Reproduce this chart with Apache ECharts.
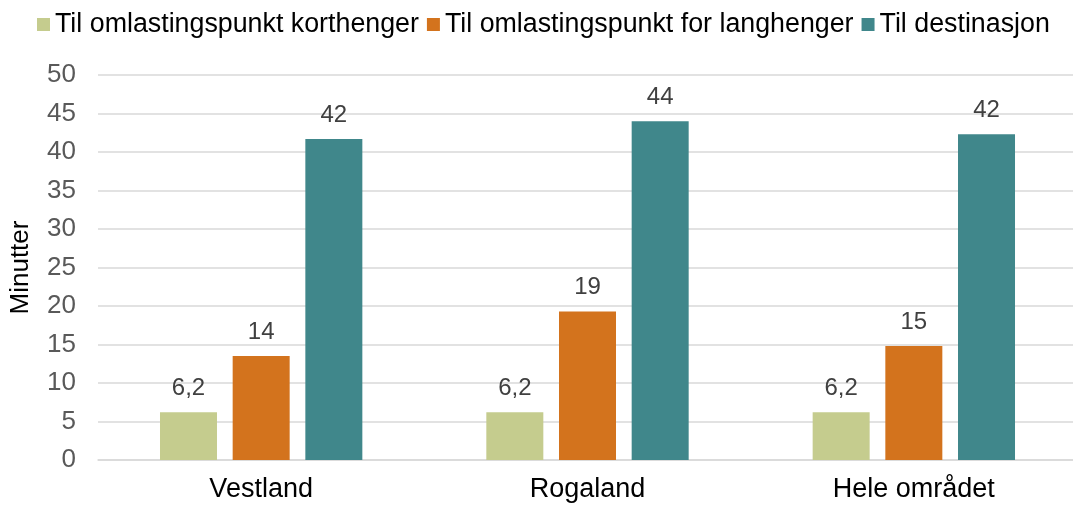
<!DOCTYPE html>
<html>
<head>
<meta charset="utf-8">
<script src="https://cdn.jsdelivr.net/npm/echarts@6/dist/echarts.min.js"></script>
<style>
html,body{margin:0;padding:0;background:#fff;overflow:hidden;}
#chart{width:1080px;height:506px;}
</style>
</head>
<body>
<div id="chart"></div>
<script>
var categories = ['Vestland', 'Rogaland', 'Hele området'];
var seriesNames = ['Til omlastingspunkt korthenger', 'Til omlastingspunkt for langhenger', 'Til destinasjon'];
var korthenger = [6.2, 6.2, 6.2];
var langhenger = [13.5, 19.3, 14.8];
var destinasjon = [41.7, 44.0, 42.3];
var yTicks = [0, 5, 10, 15, 20, 25, 30, 35, 40, 45, 50];
var colors = ['#C5CC8E', '#D3731D', '#40878B'];

var font = 'Liberation Sans, Arial, sans-serif';
function fmt(p) {
  var v = p.value;
  return v >= 10 ? String(Math.round(v)) : v.toFixed(1).replace('.', ',');
}
function mk(name, data, color) {
  return {
    name: name, type: 'bar', data: data, barWidth: 57, barGap: '27.5%',
    itemStyle: {color: color},
    label: {show: true, position: 'top', distance: 12, formatter: fmt,
      color: '#404040', fontSize: 24, fontFamily: font}
  };
}
var chart = echarts.init(document.getElementById('chart'));
chart.setOption({
  animation: false,
  legend: {
    top: 6, left: 32, itemWidth: 13, itemHeight: 13, itemGap: 8,
    icon: 'rect',
    textStyle: {fontSize: 26.8, color: '#000', fontFamily: font},
    data: seriesNames
  },
  grid: {left: 97, top: 75, right: 3, bottom: 46, containLabel: false},
  xAxis: {
    type: 'category', data: categories,
    axisLine: {lineStyle: {color: '#D9D9D9', width: 1.5}},
    axisTick: {show: false},
    axisLabel: {fontSize: 27, color: '#000', fontFamily: font, margin: 16}
  },
  yAxis: {
    type: 'value', min: yTicks[0], max: yTicks[yTicks.length - 1], interval: 5,
    name: 'Minutter', nameLocation: 'middle', nameGap: 64, nameRotate: 90,
    nameTextStyle: {fontSize: 26, color: '#000', fontFamily: font},
    axisLine: {show: false}, axisTick: {show: false},
    axisLabel: {fontSize: 26, color: '#595959', fontFamily: font, margin: 22},
    splitLine: {lineStyle: {color: '#D9D9D9', width: 1.5}}
  },
  series: [mk(seriesNames[0], korthenger, colors[0]), mk(seriesNames[1], langhenger, colors[1]), mk(seriesNames[2], destinasjon, colors[2])]
});
</script>
</body>
</html>
